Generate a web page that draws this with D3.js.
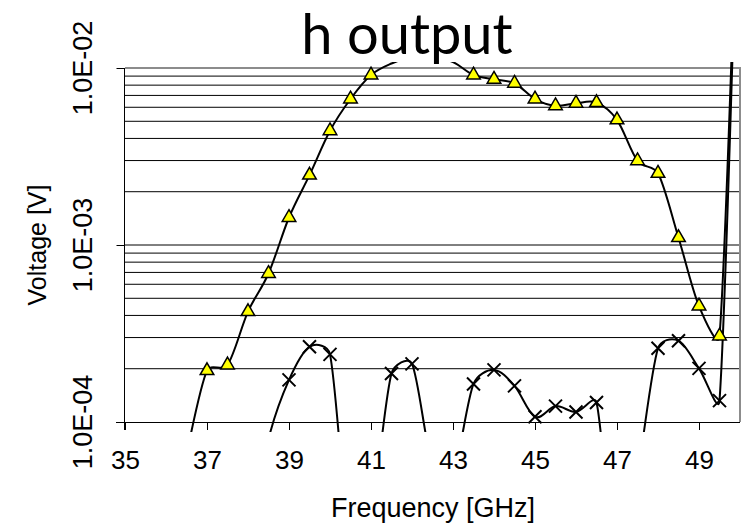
<!doctype html>
<html>
   <head>
      <meta charset="utf-8">
      <title>h output</title>
      <style>
         body { margin: 0; background: #fff; }
         text { font-family: "Liberation Sans", Arial, sans-serif; fill: #000; }
      </style>
   </head>
   <body>
      <div id="here"></div>
      <script src="https://d3js.org/d3.v7.min.js"></script>
      <script>
         var w = 745, h = 527;

         // serie con triangulos
         var triFreq = [36.5, 37, 37.5, 38, 38.5, 39, 39.5, 40, 40.5, 41, 41.5, 42, 42.5, 43, 43.5, 44, 44.5, 45, 45.5, 46, 46.5, 47, 47.5, 48, 48.5, 49, 49.5, 50];
         var triVolt = [6.6e-5, 1.95e-4, 2.1e-4, 4.2e-4, 6.9e-4, 1.43e-3, 2.48e-3, 4.42e-3, 6.68e-3, 9.13e-3, 1.06e-2, 1.15e-2, 1.15e-2, 1.08e-2, 9.13e-3, 8.64e-3, 8.2e-3, 6.68e-3, 6.12e-3, 6.32e-3, 6.37e-3, 5.09e-3, 2.99e-3, 2.54e-3, 1.10e-3, 4.52e-4, 3.06e-4, 3e-1];

         // serie con cruces
         var crossFreq = [37, 37.5, 38, 38.5, 39, 39.5, 40, 40.5, 41, 41.5, 42, 42.5, 43, 43.5, 44, 44.5, 45, 45.5, 46, 46.5, 47, 47.5, 48, 48.5, 49, 49.5, 50];
         var crossVolt = [2e-5, 2e-5, 2e-5, 8e-5, 1.73e-4, 2.66e-4, 2.41e-4, 2e-5, 3e-5, 1.88e-4, 2.13e-4, 5.7e-5, 5.15e-5, 1.64e-4, 1.97e-4, 1.6e-4, 1.07e-4, 1.23e-4, 1.14e-4, 1.29e-4, 1.3e-5, 5.1e-5, 2.61e-4, 2.88e-4, 2.01e-4, 1.32e-4, 3e-1];

         var xTicks = [35, 37, 39, 41, 43, 45, 47, 49];
         var yTicks = [1e-4, 1e-3, 1e-2];
         var yTickLabels = ["1.0E-04", "1.0E-03", "1.0E-02"];

         var x = d3.scaleLinear().domain([35, 50]).range([125, 740]);
         var y = d3.scaleLog().domain([1e-4, 1e-2]).range([422, 68]);

         // suavizado tipo Excel: tangentes de Catmull-Rom, brazos limitados por el largo del tramo
         function armOf(a, p, b, seg) {
           var dx = (b[0] - a[0]) / 6, dy = (b[1] - a[1]) / 6;
           var len = Math.hypot(dx, dy), max = 0.4 * seg;
           if (len > max) { dx *= max / len; dy *= max / len; }
           return [p[0] + dx, p[1] + dy];
         }
         function excelCurve(context) {
           var pts;
           return {
             areaStart: function() {}, areaEnd: function() {},
             lineStart: function() { pts = []; },
             point: function(px, py) { pts.push([+px, +py]); },
             lineEnd: function() {
               var n = pts.length;
               if (!n) return;
               context.moveTo(pts[0][0], pts[0][1]);
               for (var i = 0; i < n - 1; i++) {
                 var p0 = pts[Math.max(i - 1, 0)], p1 = pts[i], p2 = pts[i + 1], p3 = pts[Math.min(i + 2, n - 1)];
                 var seg = Math.hypot(p2[0] - p1[0], p2[1] - p1[1]);
                 var c1 = armOf(p0, p1, p2, seg), c2 = armOf(p3, p2, p1, seg);
                 context.bezierCurveTo(c1[0], c1[1], c2[0], c2[1], p2[0], p2[1]);
               }
             }
           };
         }

         var svg = d3.select("#here")
           .append("svg")
           .attr("width", w)
           .attr("height", h);

         svg.append("defs").append("clipPath")
           .attr("id", "clip")
           .append("rect")
           .attr("x", 125).attr("y", 62)
           .attr("width", 615).attr("height", 370);

         // lineas de division (mayores y menores)
         svg.append("g")
           .selectAll("line")
           .data(y.ticks().filter(function(d) { return d > 1.01e-4; }))
           .enter()
           .append("line")
           .attr("x1", 125).attr("x2", 740)
           .attr("y1", function(d) { return y(d); })
           .attr("y2", function(d) { return y(d); })
           .attr("stroke", "#000")
           .attr("stroke-width", 1);

         // borde superior y derecho
         svg.append("path")
           .attr("d", "M125,68H740V422")
           .attr("fill", "none")
           .attr("stroke", "#8c8c8c")
           .attr("stroke-width", 2);

         // eje x
         var xAxis = svg.append("g")
           .attr("transform", "translate(0,422)")
           .call(d3.axisBottom(x).tickValues(xTicks).tickSize(8).tickSizeOuter(0).tickPadding(21));
         xAxis.select(".domain").attr("d", "M116,0.5H740");
         xAxis.selectAll("text").style("font-size", "26px").attr("fill", "#000")
           .style("font-family", "'Liberation Sans', Arial, sans-serif");

         // eje y
         var yAxis = svg.append("g")
           .attr("transform", "translate(124.5,0)")
           .call(d3.axisLeft(y).tickValues(yTicks).tickSize(8).tickSizeOuter(0).tickFormat(""));
         yAxis.select(".domain").attr("d", "M0,68V430");

         svg.append("g")
           .selectAll("text")
           .data(yTicks)
           .enter()
           .append("text")
           .attr("transform", function(d) { return "translate(92," + y(d) + ") rotate(-90)"; })
           .attr("text-anchor", "middle")
           .style("font-size", "27px")
           .text(function(d, i) { return yTickLabels[i]; });

         // curvas suavizadas
         var line = d3.line()
           .x(function(d) { return x(d[0]); })
           .y(function(d) { return y(d[1]); })
           .curve(excelCurve);

         var triData = d3.zip(triFreq, triVolt);
         var crossData = d3.zip(crossFreq, crossVolt);

         var curves = svg.append("g").attr("clip-path", "url(#clip)");
         [crossData, triData].forEach(function(s) {
           curves.append("path")
             .datum(s)
             .attr("d", line)
             .attr("fill", "none")
             .attr("stroke", "#000")
             .attr("stroke-width", 2);
         });

         // solo se marcan los puntos dentro del rango del eje
         function inRange(d) { return d[1] >= 1e-4 && d[1] <= 1e-2; }

         var xSym = d3.symbolX || {
           draw: function(ctx, size) {
             var r = Math.sqrt(size - Math.min(size / 6, 1.7)) * 0.6189;
             ctx.moveTo(-r, -r); ctx.lineTo(r, r);
             ctx.moveTo(-r, r); ctx.lineTo(r, -r);
           }
         };

         svg.append("g")
           .selectAll("path")
           .data(crossData.filter(inRange))
           .enter()
           .append("path")
           .attr("transform", function(d) { return "translate(" + x(d[0]) + "," + y(d[1]) + ")"; })
           .attr("d", d3.symbol().type(xSym).size(112))
           .attr("fill", "none")
           .attr("stroke", "#000")
           .attr("stroke-width", 2);

         svg.append("g")
           .selectAll("path")
           .data(triData.filter(inRange))
           .enter()
           .append("path")
           .attr("transform", function(d) { return "translate(" + x(d[0]) + "," + y(d[1]) + ")"; })
           .attr("d", d3.symbol().type(d3.symbolTriangle).size(80))
           .attr("fill", "#ffff00")
           .attr("stroke", "#000")
           .attr("stroke-width", 1.5);

         // titulos
         svg.append("text")
           .attr("x", 407).attr("y", 54)
           .attr("text-anchor", "middle")
           .style("font-family", "Lato, 'Open Sans', sans-serif")
           .style("font-size", "56px")
           .text("h output");

         svg.append("text")
           .attr("x", 433).attr("y", 517)
           .attr("text-anchor", "middle")
           .style("font-size", "27px")
           .text("Frequency [GHz]");

         svg.append("text")
           .attr("transform", "translate(46,245) rotate(-90)")
           .attr("text-anchor", "middle")
           .style("font-size", "25px")
           .text("Voltage [V]");
      </script>
   </body>
</html>
